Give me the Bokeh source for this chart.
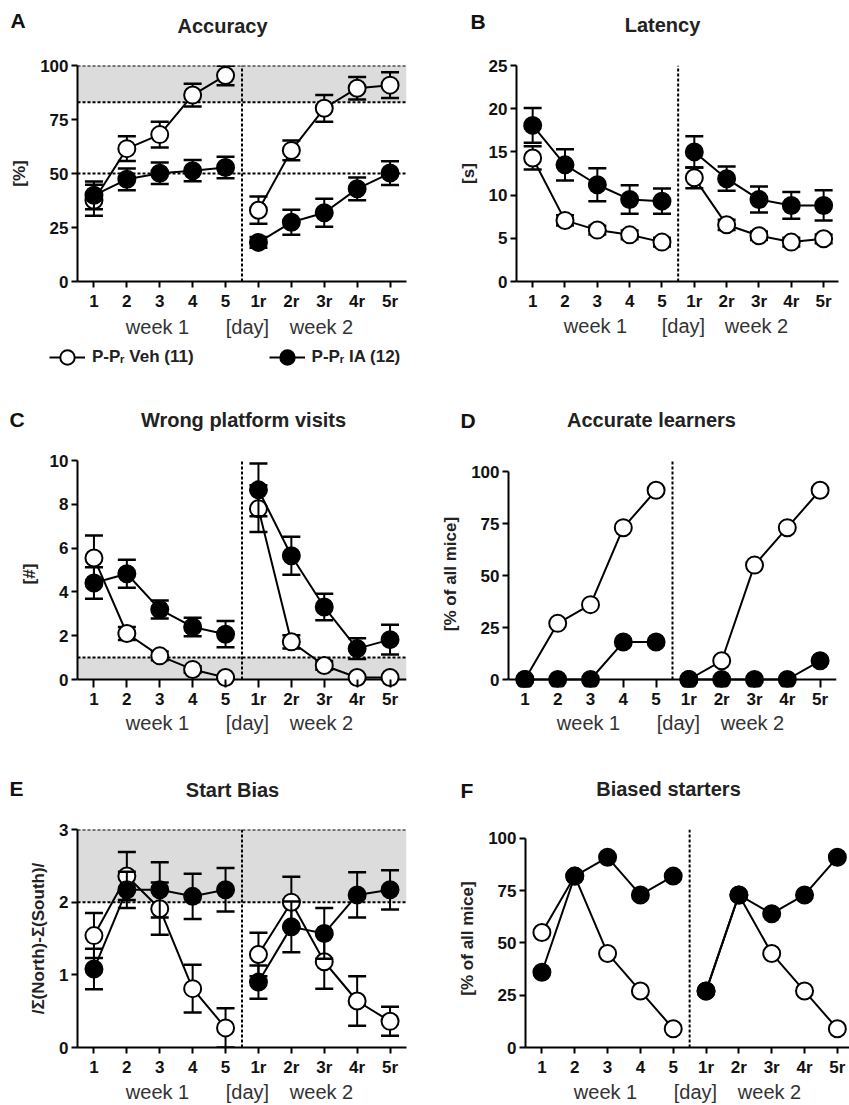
from bokeh.plotting import figure
from bokeh.models import (ColumnDataSource, Span, BoxAnnotation, Legend, LegendItem,
                          FixedTicker, Range1d, LinearAxis, Label)
from bokeh.layouts import column, row
from bokeh.embed import file_html
from bokeh.resources import INLINE

# ---------------- data ----------------
days = ["1", "2", "3", "4", "5", "1r", "2r", "3r", "4r", "5r"]
group_labels = ["week 1", "[day]", "week 2"]
legend_labels = ["P-Pᵣ Veh (11)", "P-Pᵣ IA (12)"]

# A  Accuracy [%]
veh_acc = [37.6, 61.5, 68.0, 86.3, 95.4, 33.0, 60.7, 80.2, 89.5, 90.9]
veh_acc_err = [7.2, 5.7, 6.0, 5.3, 4.5, 6.3, 4.6, 6.2, 5.2, 6.0]
ia_acc = [39.9, 47.3, 50.1, 51.3, 52.8, 18.1, 27.4, 31.8, 42.9, 50.2]
ia_acc_err = [6.4, 5.0, 5.0, 4.9, 5.0, 2.5, 5.8, 6.5, 5.3, 5.5]
acc_band = (83, 100)
acc_lines = [100, 83, 50]

# B  Latency [s]
veh_lat = [14.3, 7.07, 5.95, 5.4, 4.56, 12.0, 6.56, 5.3, 4.56, 4.94]
veh_lat_err = [1.35, 0.6, 0.5, 0.5, 0.5, 1.2, 0.6, 0.5, 0.5, 0.5]
ia_lat = [18.07, 13.5, 11.2, 9.5, 9.3, 15.0, 11.9, 9.5, 8.8, 8.8]
ia_lat_err = [2.0, 1.8, 1.9, 1.65, 1.45, 1.8, 1.4, 1.5, 1.55, 1.75]

# C  Wrong platform visits [#]
veh_wpv = [5.55, 2.1, 1.08, 0.46, 0.09, 7.8, 1.72, 0.64, 0.09, 0.09]
veh_wpv_err = [1.03, 0.3, 0.2, 0.15, 0.05, 1.07, 0.3, 0.2, 0.05, 0.05]
ia_wpv = [4.41, 4.83, 3.2, 2.4, 2.07, 8.66, 5.65, 3.31, 1.41, 1.82]
ia_wpv_err = [0.72, 0.64, 0.41, 0.42, 0.6, 1.2, 0.87, 0.6, 0.47, 0.68]
wpv_band = (0, 1)
wpv_lines = [1]

# D  Accurate learners [% of all mice]
veh_al = [0, 27, 36, 73, 91, 0, 9, 55, 73, 91]
ia_al = [0, 0, 0, 18, 18, 0, 0, 0, 0, 9]

# E  Start bias
veh_sb = [1.54, 2.36, 1.91, 0.81, 0.27, 1.28, 2.0, 1.18, 0.64, 0.36]
veh_sb_err = [0.31, 0.33, 0.36, 0.33, 0.27, 0.3, 0.35, 0.37, 0.34, 0.2]
ia_sb = [1.08, 2.17, 2.17, 2.08, 2.17, 0.9, 1.66, 1.57, 2.1, 2.17]
ia_sb_err = [0.28, 0.25, 0.38, 0.31, 0.3, 0.23, 0.35, 0.35, 0.31, 0.27]
sb_band = (2, 3)
sb_lines = [3, 2]

# F  Biased starters [% of all mice]
veh_bs = [55, 82, 45, 27, 9, 27, 73, 45, 27, 9]
ia_bs = [36, 82, 91, 73, 82, 27, 73, 64, 73, 91]

# ---------------- styling ----------------
FONT = "Liberation Sans"
xs = list(range(len(days)))
week1 = xs[:5]
week2 = xs[5:]
divider_x = (week1[-1] + week2[0]) / 2


def style_text_axis(ax, size, bold, color, standoff):
    ax.axis_line_color = None
    ax.major_tick_line_color = None
    ax.minor_tick_line_color = None
    ax.major_tick_in = 0
    ax.major_tick_out = 0
    ax.major_label_standoff = standoff
    ax.major_label_text_font = FONT
    ax.major_label_text_font_size = size
    ax.major_label_text_font_style = "bold" if bold else "normal"
    ax.major_label_text_color = color


def make_panel(letter, title, ylabel, yticks, y_end, width, height, bl, br, bt, bb,
               title_c, letter_dx, letter_dy, title_standoff=6, x_end=9.5, pad_px=0,
               week_standoff=0, band=None, hlines=()):
    fh = height - bt - bb
    fw = width - bl - br
    x_start = -0.5
    ymax = yticks[-1]
    if pad_px:
        # frame extends pad_px below zero so that markers sitting on 0 are not cut
        y_start = -pad_px * y_end / (fh - pad_px)
    else:
        y_start = 0
    p = figure(width=width, height=height, output_backend="svg", toolbar_location=None,
               title=None, x_range=Range1d(x_start, x_end), y_range=Range1d(y_start, y_end),
               min_border_left=bl, min_border_right=br, min_border_top=bt,
               min_border_bottom=bb)
    p.outline_line_color = None
    p.grid.visible = False
    p.background_fill_color = "white"
    p.border_fill_color = "white"
    p.extra_x_ranges = {"px": Range1d(0, fw)}

    def to_px(x):
        return int(round((x - x_start) / (x_end - x_start) * fw))

    xa = p.xaxis[0]
    xa.ticker = FixedTicker(ticks=xs)
    xa.major_label_overrides = {i: d for i, d in zip(xs, days)}
    xa.minor_tick_line_color = None
    xa.major_tick_line_width = 2
    xa.axis_line_width = 2
    xa.major_label_text_font = FONT
    xa.major_label_text_font_size = "17px"
    xa.major_label_text_font_style = "bold"
    xa.major_label_text_color = "#111111"
    if pad_px:
        xa.axis_line_color = None
        xa.major_tick_in = pad_px
        xa.major_tick_out = 0
        xa.major_label_standoff = 2
    else:
        xa.major_tick_in = 0
        xa.major_tick_out = 6
        xa.major_label_standoff = 4

    ya = p.yaxis[0]
    ya.ticker = FixedTicker(ticks=yticks)
    ya.bounds = (0, ymax)
    ya.minor_tick_line_color = None
    ya.major_tick_in = 0
    ya.major_tick_out = 6
    ya.major_tick_line_width = 2
    ya.axis_line_width = 2
    ya.major_label_standoff = 3
    ya.major_label_text_font = FONT
    ya.major_label_text_font_size = "17px"
    ya.major_label_text_font_style = "bold"
    ya.major_label_text_color = "#111111"
    ya.axis_label = ylabel
    ya.axis_label_text_font = FONT
    ya.axis_label_text_font_size = "17px"
    ya.axis_label_text_font_style = "bold"
    ya.axis_label_text_color = "#222222"
    ya.axis_label_standoff = 8

    # panel letter, in the panel strip just above the frame
    p.add_layout(Label(x=letter_dx, y=letter_dy, x_units="screen", y_units="screen",
                       text=letter, text_font=FONT, text_font_size="21px",
                       text_font_style="bold", text_color="#111111",
                       text_align="left", text_baseline="middle"), "above")
    # panel title as the label of a bare axis above the frame
    hdr = LinearAxis(x_range_name="px", ticker=FixedTicker(ticks=[title_c]),
                     major_label_overrides={title_c: title})
    style_text_axis(hdr, "20px", True, "#222222", title_standoff)
    p.add_layout(hdr, "above")

    # footer row: week / day group labels
    gpos = [to_px(sum(week1) / len(week1) - 0.07), to_px(divider_x + 0.17),
            to_px(sum(week2) / len(week2) - 0.07)]
    wk = LinearAxis(x_range_name="px", ticker=FixedTicker(ticks=gpos),
                    major_label_overrides={g: t for g, t in zip(gpos, group_labels)})
    style_text_axis(wk, "20px", False, "#333333", week_standoff)
    p.add_layout(wk, "below")

    if band is not None:
        p.add_layout(BoxAnnotation(bottom=band[0], top=band[1], fill_color="#dcdcdc",
                                   fill_alpha=1, line_color=None, level="underlay"))
    for v in hlines:
        p.add_layout(Span(location=v, dimension="width", line_color="black",
                          line_width=2, line_dash="3 2", level="underlay"))
    if pad_px:
        p.add_layout(Span(location=0, dimension="width", line_color="black",
                          line_width=2, level="underlay"))
    # dashed divider between week 1 and week 2, from the x axis up to the frame top
    p.segment(x0=[divider_x], y0=[0], x1=[divider_x], y1=[y_end], line_color="black",
              line_width=2, line_dash="3 2")
    return p


def draw_series(p, y, err, filled, visible=True):
    data = dict(x=xs, y=y)
    if err is not None:
        data["lo"] = [a - b for a, b in zip(y, err)]
        data["hi"] = [a + b for a, b in zip(y, err)]
    src = ColumnDataSource(data)
    if err is not None:
        p.segment(x0="x", y0="lo", x1="x", y1="hi", source=src, line_color="black",
                  line_width=2, visible=visible)
        p.scatter("x", "hi", source=src, marker="dash", size=18, line_color="black",
                  line_width=2.5, visible=visible)
        p.scatter("x", "lo", source=src, marker="dash", size=18, line_color="black",
                  line_width=2.5, visible=visible)
    # one connecting line per week (no line across the break between weeks)
    ln = p.multi_line(xs=[week1, week2], ys=[y[:len(week1)], y[len(week1):]],
                      line_color="black", line_width=2, visible=visible)
    pts = p.scatter("x", "y", source=src, marker="circle", size=17, line_color="black",
                    line_width=2, fill_color="black" if filled else "white",
                    visible=visible)
    return ln, pts


# ---------------- panels ----------------
pA = make_panel("A", "Accuracy", "[%]", [0, 25, 50, 75, 100], 100, 428, 340, 77, 22, 65, 58,
                title_c=145, letter_dx=-67, letter_dy=45, title_standoff=6,
                week_standoff=2, band=acc_band, hlines=acc_lines)
draw_series(pA, veh_acc, veh_acc_err, False)
draw_series(pA, ia_acc, ia_acc_err, True)

pB = make_panel("B", "Latency", "[s]", [0, 5, 10, 15, 20, 25], 25, 421, 340, 88, 11, 65, 58,
                title_c=146, letter_dx=-46, letter_dy=44, title_standoff=7, x_end=9.46,
                week_standoff=1)
draw_series(pB, veh_lat, veh_lat_err, False)
draw_series(pB, ia_lat, ia_lat_err, True)

# legend strip under the first row (legend entries for the two groups)
pL = figure(width=849, height=45, output_backend="svg", toolbar_location=None, title=None,
            x_axis_type=None, y_axis_type=None, x_range=Range1d(0, 1), y_range=Range1d(0, 1),
            min_border_left=0, min_border_right=0, min_border_top=0, min_border_bottom=0)
pL.outline_line_color = None
pL.grid.visible = False
items = []
for lab, ys_, filled in zip(legend_labels, [veh_acc, ia_acc], [False, True]):
    lr, sr = draw_series(pL, ys_, None, filled, visible=False)
    items.append(LegendItem(label=lab, renderers=[lr, sr]))
legend = Legend(items=items, location=(49, 10), orientation="horizontal", spacing=75,
                padding=0, margin=0, glyph_width=36, glyph_height=36, label_standoff=7,
                border_line_color=None, background_fill_alpha=0,
                label_text_font=FONT, label_text_font_size="17px",
                label_text_font_style="bold", label_text_color="#222222")
pL.add_layout(legend)

pC = make_panel("C", "Wrong platform visits", "[#]", [0, 2, 4, 6, 8, 10], 10, 428, 370,
                77, 22, 75, 68, title_c=166, letter_dx=-68, letter_dy=41, title_standoff=7,
                pad_px=8, week_standoff=0, band=wpv_band, hlines=wpv_lines)
draw_series(pC, veh_wpv, veh_wpv_err, False)
draw_series(pC, ia_wpv, ia_wpv_err, True)

pD = make_panel("D", "Accurate learners", "[% of all mice]", [0, 25, 50, 75, 100], 105.3,
                421, 370, 80, 13, 75, 68, title_c=143, letter_dx=-48, letter_dy=40,
                title_standoff=7, pad_px=8, week_standoff=0)
draw_series(pD, veh_al, None, False)
draw_series(pD, ia_al, None, True)

pE = make_panel("E", "Start Bias", "/Σ(North)-Σ(South)/", [0, 1, 2, 3], 3, 428, 350,
                77, 22, 74, 57, title_c=155, letter_dx=-68, letter_dy=41, title_standoff=6,
                week_standoff=1, band=sb_band, hlines=sb_lines)
draw_series(pE, veh_sb, veh_sb_err, False)
draw_series(pE, ia_sb, ia_sb_err, True)

pF = make_panel("F", "Biased starters", "[% of all mice]", [0, 25, 50, 75, 100], 104.3,
                421, 350, 97, 0, 74, 57, title_c=143, letter_dx=-65, letter_dy=39,
                title_standoff=7, x_end=9.37, week_standoff=1)
draw_series(pF, veh_bs, None, False)
draw_series(pF, ia_bs, None, True)

layout = column(row(pA, pB), pL, row(pC, pD), row(pE, pF))
open("out.html", "w").write(file_html(layout, INLINE))
